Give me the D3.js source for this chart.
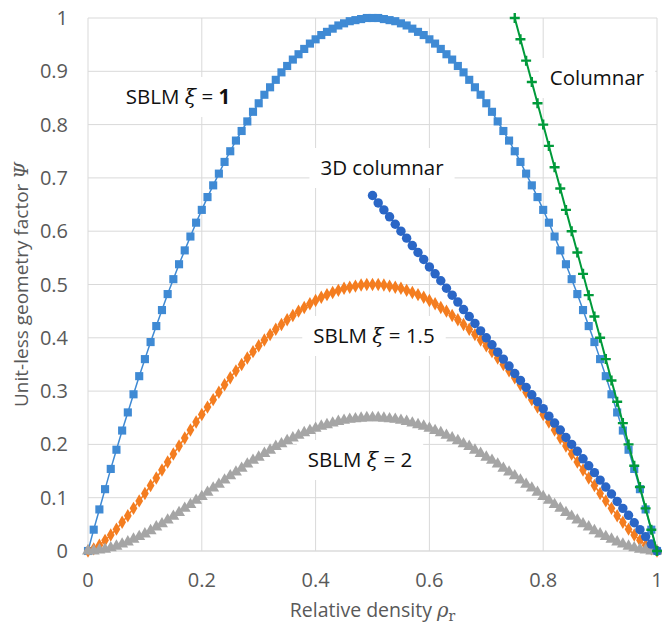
<!DOCTYPE html>
<html>
<head>
<meta charset="utf-8">
<script src="https://cdn.jsdelivr.net/npm/d3@7"></script>
<style>
  body { margin: 0; background: #fff; }
  svg { display: block; }
</style>
</head>
<body>
<svg id="chart" width="662" height="627"></svg>
<script>
// relative density samples (step 0.01)
const rho = [
  0, .01, .02, .03, .04, .05, .06, .07, .08, .09,
  .10, .11, .12, .13, .14, .15, .16, .17, .18, .19,
  .20, .21, .22, .23, .24, .25, .26, .27, .28, .29,
  .30, .31, .32, .33, .34, .35, .36, .37, .38, .39,
  .40, .41, .42, .43, .44, .45, .46, .47, .48, .49,
  .50, .51, .52, .53, .54, .55, .56, .57, .58, .59,
  .60, .61, .62, .63, .64, .65, .66, .67, .68, .69,
  .70, .71, .72, .73, .74, .75, .76, .77, .78, .79,
  .80, .81, .82, .83, .84, .85, .86, .87, .88, .89,
  .90, .91, .92, .93, .94, .95, .96, .97, .98, .99, 1
];

// SBLM xi = 1
const sblm1 = [
  0, .040, .078, .116, .154, .190, .226, .260, .294, .328,
  .360, .392, .422, .452, .482, .510, .538, .564, .590, .616,
  .640, .664, .686, .708, .730, .750, .770, .788, .806, .824,
  .840, .856, .870, .884, .898, .910, .922, .932, .942, .952,
  .960, .968, .974, .980, .986, .990, .994, .996, .998, 1.000,
  1.000, 1.000, .998, .996, .994, .990, .986, .980, .974, .968,
  .960, .952, .942, .932, .922, .910, .898, .884, .870, .856,
  .840, .824, .806, .788, .770, .750, .730, .708, .686, .664,
  .640, .616, .590, .564, .538, .510, .482, .452, .422, .392,
  .360, .328, .294, .260, .226, .190, .154, .116, .078, .040, 0
];

// SBLM xi = 1.5
const sblm15 = [
  0, .004, .011, .020, .030, .041, .054, .066, .080, .094,
  .108, .123, .137, .152, .167, .182, .197, .212, .227, .242,
  .256, .270, .284, .298, .312, .325, .338, .350, .362, .374,
  .385, .396, .406, .416, .425, .434, .442, .450, .457, .464,
  .470, .476, .481, .485, .489, .493, .495, .497, .499, .500,
  .500, .500, .499, .497, .495, .493, .489, .485, .481, .476,
  .470, .464, .457, .450, .442, .434, .425, .416, .406, .396,
  .385, .374, .362, .350, .338, .325, .312, .298, .284, .270,
  .256, .242, .227, .212, .197, .182, .167, .152, .137, .123,
  .108, .094, .080, .066, .054, .041, .030, .020, .011, .004, 0
];

// SBLM xi = 2
const sblm2 = [
  0, .000, .002, .003, .006, .009, .013, .017, .022, .027,
  .032, .038, .045, .051, .058, .065, .072, .080, .087, .095,
  .102, .110, .118, .125, .133, .141, .148, .155, .163, .170,
  .176, .183, .189, .196, .201, .207, .212, .217, .222, .226,
  .230, .234, .237, .240, .243, .245, .247, .248, .249, .250,
  .250, .250, .249, .248, .247, .245, .243, .240, .237, .234,
  .230, .226, .222, .217, .212, .207, .201, .196, .189, .183,
  .176, .170, .163, .155, .148, .141, .133, .125, .118, .110,
  .102, .095, .087, .080, .072, .065, .058, .051, .045, .038,
  .032, .027, .022, .017, .013, .009, .006, .003, .002, .000, 0
];

// 3D columnar, rho 0.5 .. 1
const col3d = [
  .667, .653, .640, .627, .613, .600, .587, .573, .560, .547,
  .533, .520, .507, .493, .480, .467, .453, .440, .427, .413,
  .400, .387, .373, .360, .347, .333, .320, .307, .293, .280,
  .267, .253, .240, .227, .213, .200, .187, .173, .160, .147,
  .133, .120, .107, .093, .080, .067, .053, .040, .027, .013, 0
];

// Columnar, rho 0.75 .. 1
const columnar = [
  1, .96, .92, .88, .84, .80, .76, .72, .68, .64,
  .60, .56, .52, .48, .44, .40, .36, .32, .28, .24,
  .20, .16, .12, .08, .04, 0
];

const xTicks = [0, 0.2, 0.4, 0.6, 0.8, 1];
const xTickLabels = ["0", "0.2", "0.4", "0.6", "0.8", "1"];
const yTicks = [0, 0.1, 0.2, 0.3, 0.4, 0.5, 0.6, 0.7, 0.8, 0.9, 1];
const yTickLabels = ["0", "0.1", "0.2", "0.3", "0.4", "0.5", "0.6", "0.7", "0.8", "0.9", "1"];

const FONT = "'Open Sans', 'Noto Sans', sans-serif";
const MATH = "'DejaVu Serif', serif";

const svg = d3.select("#chart");

const x = d3.scaleLinear().domain([0, 1]).range([88, 657]);
const y = d3.scaleLinear().domain([0, 1]).range([551, 18]);

// --- grid ---
const grid = svg.append("g").attr("class", "grid");
grid.selectAll("line.h")
  .data(yTicks)
  .join("line")
  .attr("x1", x(0)).attr("x2", x(1))
  .attr("y1", (d) => y(d)).attr("y2", (d) => y(d))
  .attr("stroke", (d) => (d === 0 ? "#c9c9c9" : "#d9d9d9"))
  .attr("stroke-width", 1);
grid.selectAll("line.v")
  .data(xTicks)
  .join("line")
  .attr("x1", (d) => x(d)).attr("x2", (d) => x(d))
  .attr("y1", y(0)).attr("y2", y(1))
  .attr("stroke", "#d9d9d9")
  .attr("stroke-width", 1);

// --- annotation boxes (white, hide grid) ---
const labels = [
  { cx: 178, by: 104, parts: [["SBLM ", FONT, "normal", "normal"], ["ξ", MATH, "italic", "normal"], [" = ", FONT, "normal", "normal"], ["1", FONT, "normal", "bold"]] },
  { cx: 382, by: 175, parts: [["3D columnar", FONT, "normal", "normal"]] },
  { cx: 597, by: 85, parts: [["Columnar", FONT, "normal", "normal"]] },
  { cx: 374, by: 343, parts: [["SBLM ", FONT, "normal", "normal"], ["ξ", MATH, "italic", "normal"], [" = 1.5", FONT, "normal", "normal"]] },
  { cx: 360, by: 467, parts: [["SBLM ", FONT, "normal", "normal"], ["ξ", MATH, "italic", "normal"], [" = 2", FONT, "normal", "normal"]] },
];

const boxG = svg.append("g");
const annoG = svg.append("g").attr("class", "annotations");

// --- series ---
function drawSeries(xs, ys, color, lineW, marker) {
  const pts = xs.map((v, i) => [v, ys[i]]);
  const g = svg.append("g");
  g.append("path")
    .datum(pts)
    .attr("fill", "none")
    .attr("stroke", color)
    .attr("stroke-width", lineW)
    .attr("d", d3.line().x((d) => x(d[0])).y((d) => y(d[1])));
  const m = g.selectAll("path.m")
    .data(pts)
    .join("path")
    .attr("transform", (d) => `translate(${x(d[0])},${y(d[1])})`);
  if (marker === "plus") {
    m.attr("d", "M-5,0H5M0,-5V5")
      .attr("fill", "none")
      .attr("stroke", color)
      .attr("stroke-width", 2.4);
  } else {
    m.attr("d", d3.symbol().type(marker.type).size(marker.size)())
      .attr("fill", color);
  }
}

drawSeries(rho, sblm1, "#3f8ad4", 1.5, { type: d3.symbolSquare, size: 66 });
drawSeries(rho, sblm15, "#f47d20", 1.5, { type: d3.symbolDiamond, size: 52 });
drawSeries(rho, sblm2, "#a5a5a5", 1.5, { type: d3.symbolTriangle, size: 62 });
drawSeries(rho.slice(50), col3d, "#2a66c6", 1.5, { type: d3.symbolCircle, size: 70 });
drawSeries(rho.slice(75), columnar, "#009a3a", 2, "plus");

// --- annotation text ---
labels.forEach((l) => {
  const t = annoG.append("text")
    .attr("y", l.by)
    .attr("font-size", 20.5)
    .attr("fill", "#111")
    .attr("font-family", FONT);
  l.parts.forEach((p) => {
    t.append("tspan")
      .attr("font-family", p[1])
      .attr("font-style", p[2])
      .attr("font-weight", p[3])
      .text(p[0]);
  });
  const w = t.node().getComputedTextLength();
  t.attr("x", l.cx - w / 2);
  boxG.append("rect")
    .attr("x", l.cx - w / 2 - 11)
    .attr("y", l.by - 27)
    .attr("width", w + 22)
    .attr("height", 40)
    .attr("fill", "#fff");
});
annoG.raise();

// --- tick labels ---
svg.append("g")
  .selectAll("text")
  .data(yTicks)
  .join("text")
  .attr("x", 68)
  .attr("y", (d) => y(d) + 7)
  .attr("text-anchor", "end")
  .attr("font-family", FONT)
  .attr("font-size", 20)
  .attr("fill", "#595959")
  .text((d, i) => yTickLabels[i]);

svg.append("g")
  .selectAll("text")
  .data(xTicks)
  .join("text")
  .attr("x", (d) => x(d))
  .attr("y", 587)
  .attr("text-anchor", "middle")
  .attr("font-family", FONT)
  .attr("font-size", 20)
  .attr("fill", "#595959")
  .text((d, i) => xTickLabels[i]);

// --- axis titles ---
const xt = svg.append("text")
  .attr("x", (x(0) + x(1)) / 2)
  .attr("y", 617)
  .attr("text-anchor", "middle")
  .attr("font-family", FONT)
  .attr("font-size", 19.5)
  .attr("fill", "#595959");
xt.append("tspan").text("Relative density ");
xt.append("tspan").attr("font-family", MATH).attr("font-style", "italic").text("ρ");
xt.append("tspan").attr("font-family", MATH).attr("font-size", 14).attr("dy", 4).text("r");

const yt = svg.append("text")
  .attr("transform", `translate(28,${(y(0) + y(1)) / 2}) rotate(-90)`)
  .attr("text-anchor", "middle")
  .attr("font-family", FONT)
  .attr("font-size", 19)
  .attr("fill", "#595959");
yt.append("tspan").text("Unit-less geometry factor ");
yt.append("tspan").attr("font-family", MATH).attr("font-style", "italic").text("Ψ");
</script>
</body>
</html>
